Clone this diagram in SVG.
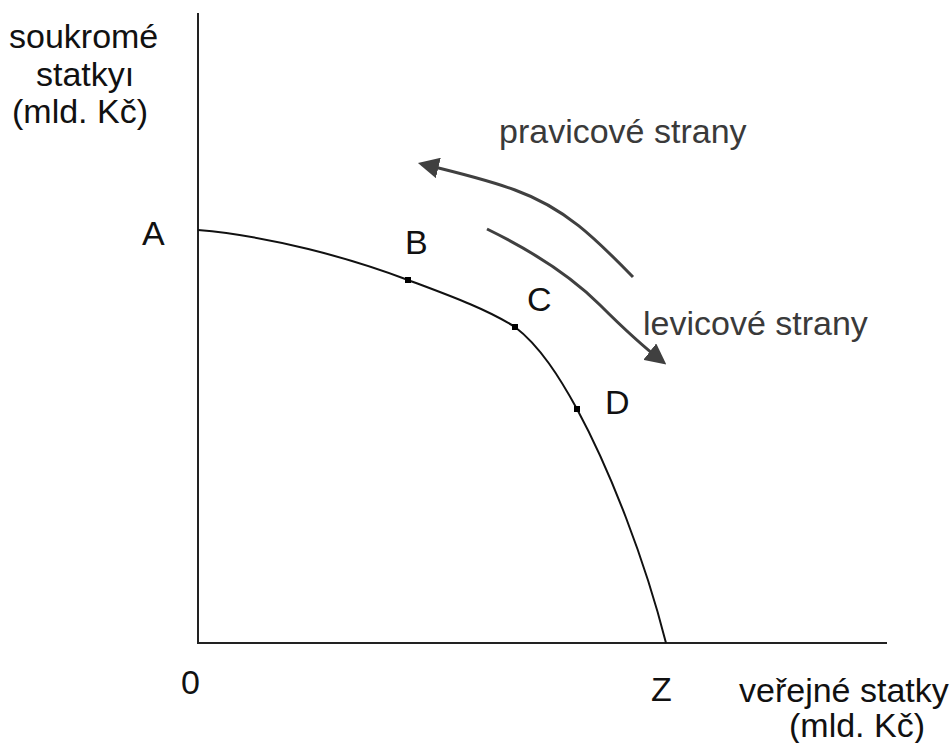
<svg xmlns="http://www.w3.org/2000/svg" width="951" height="743" viewBox="0 0 951 743">
<style>
text{font-family:"Liberation Sans",Arial,sans-serif;font-size:34px;fill:#111}
.g{fill:#3a3a3a}
.ax{stroke:#222;stroke-width:2;fill:none}
.cv{stroke:#111;stroke-width:2;fill:none}
.ar{stroke:#404040;stroke-width:3;fill:none}
.pt{fill:#000}
</style>
<defs>
<marker id="ah" viewBox="0 0 10 10" refX="8" refY="5" markerWidth="7" markerHeight="7" orient="auto" markerUnits="strokeWidth">
<path d="M0,0 L10,5 L0,10 Z" fill="#404040"/>
</marker>
</defs>
<g id="axes">
<line class="ax" x1="198" y1="13" x2="198" y2="643"/>
<line class="ax" x1="197" y1="643" x2="887" y2="643"/>
</g>
<g id="labels">
<text x="9" y="48">soukromé</text>
<text x="36" y="86">statkyı</text>
<text x="12" y="123">(mld. Kč)</text>
<text x="181" y="694">0</text>
<text x="651" y="701">Z</text>
<text x="739" y="702">veřejné statky</text>
<text x="789" y="737">(mld. Kč)</text>
</g>
<g id="curve">
<path class="cv" d="M198,230 C270,236 350,258 408,280 C445,294 485,308 515,327 C540,346 560,378 577,409 C610,470 645,560 666,643"/>
</g>
<g id="nodeA"><text x="142" y="245">A</text></g>
<g id="nodeB"><rect class="pt" x="405" y="277" width="6" height="6"/><text x="405" y="254">B</text></g>
<g id="nodeC"><rect class="pt" x="512" y="324" width="6" height="6"/><text x="527" y="311">C</text></g>
<g id="nodeD"><rect class="pt" x="574" y="406" width="6" height="6"/><text x="605" y="414">D</text></g>
<g id="connectors">
<path class="ar" d="M633,277 C595,238 565,208 515,190 C485,179 455,172 422,164" marker-end="url(#ah)"/>
<path class="ar" d="M487,229 C530,250 570,275 600,305 C625,330 645,348 663,362" marker-end="url(#ah)"/>
</g>
<g id="arrowLabels">
<text class="g" x="499" y="143">pravicové strany</text>
<text class="g" x="643" y="335">levicové strany</text>
</g>
</svg>
